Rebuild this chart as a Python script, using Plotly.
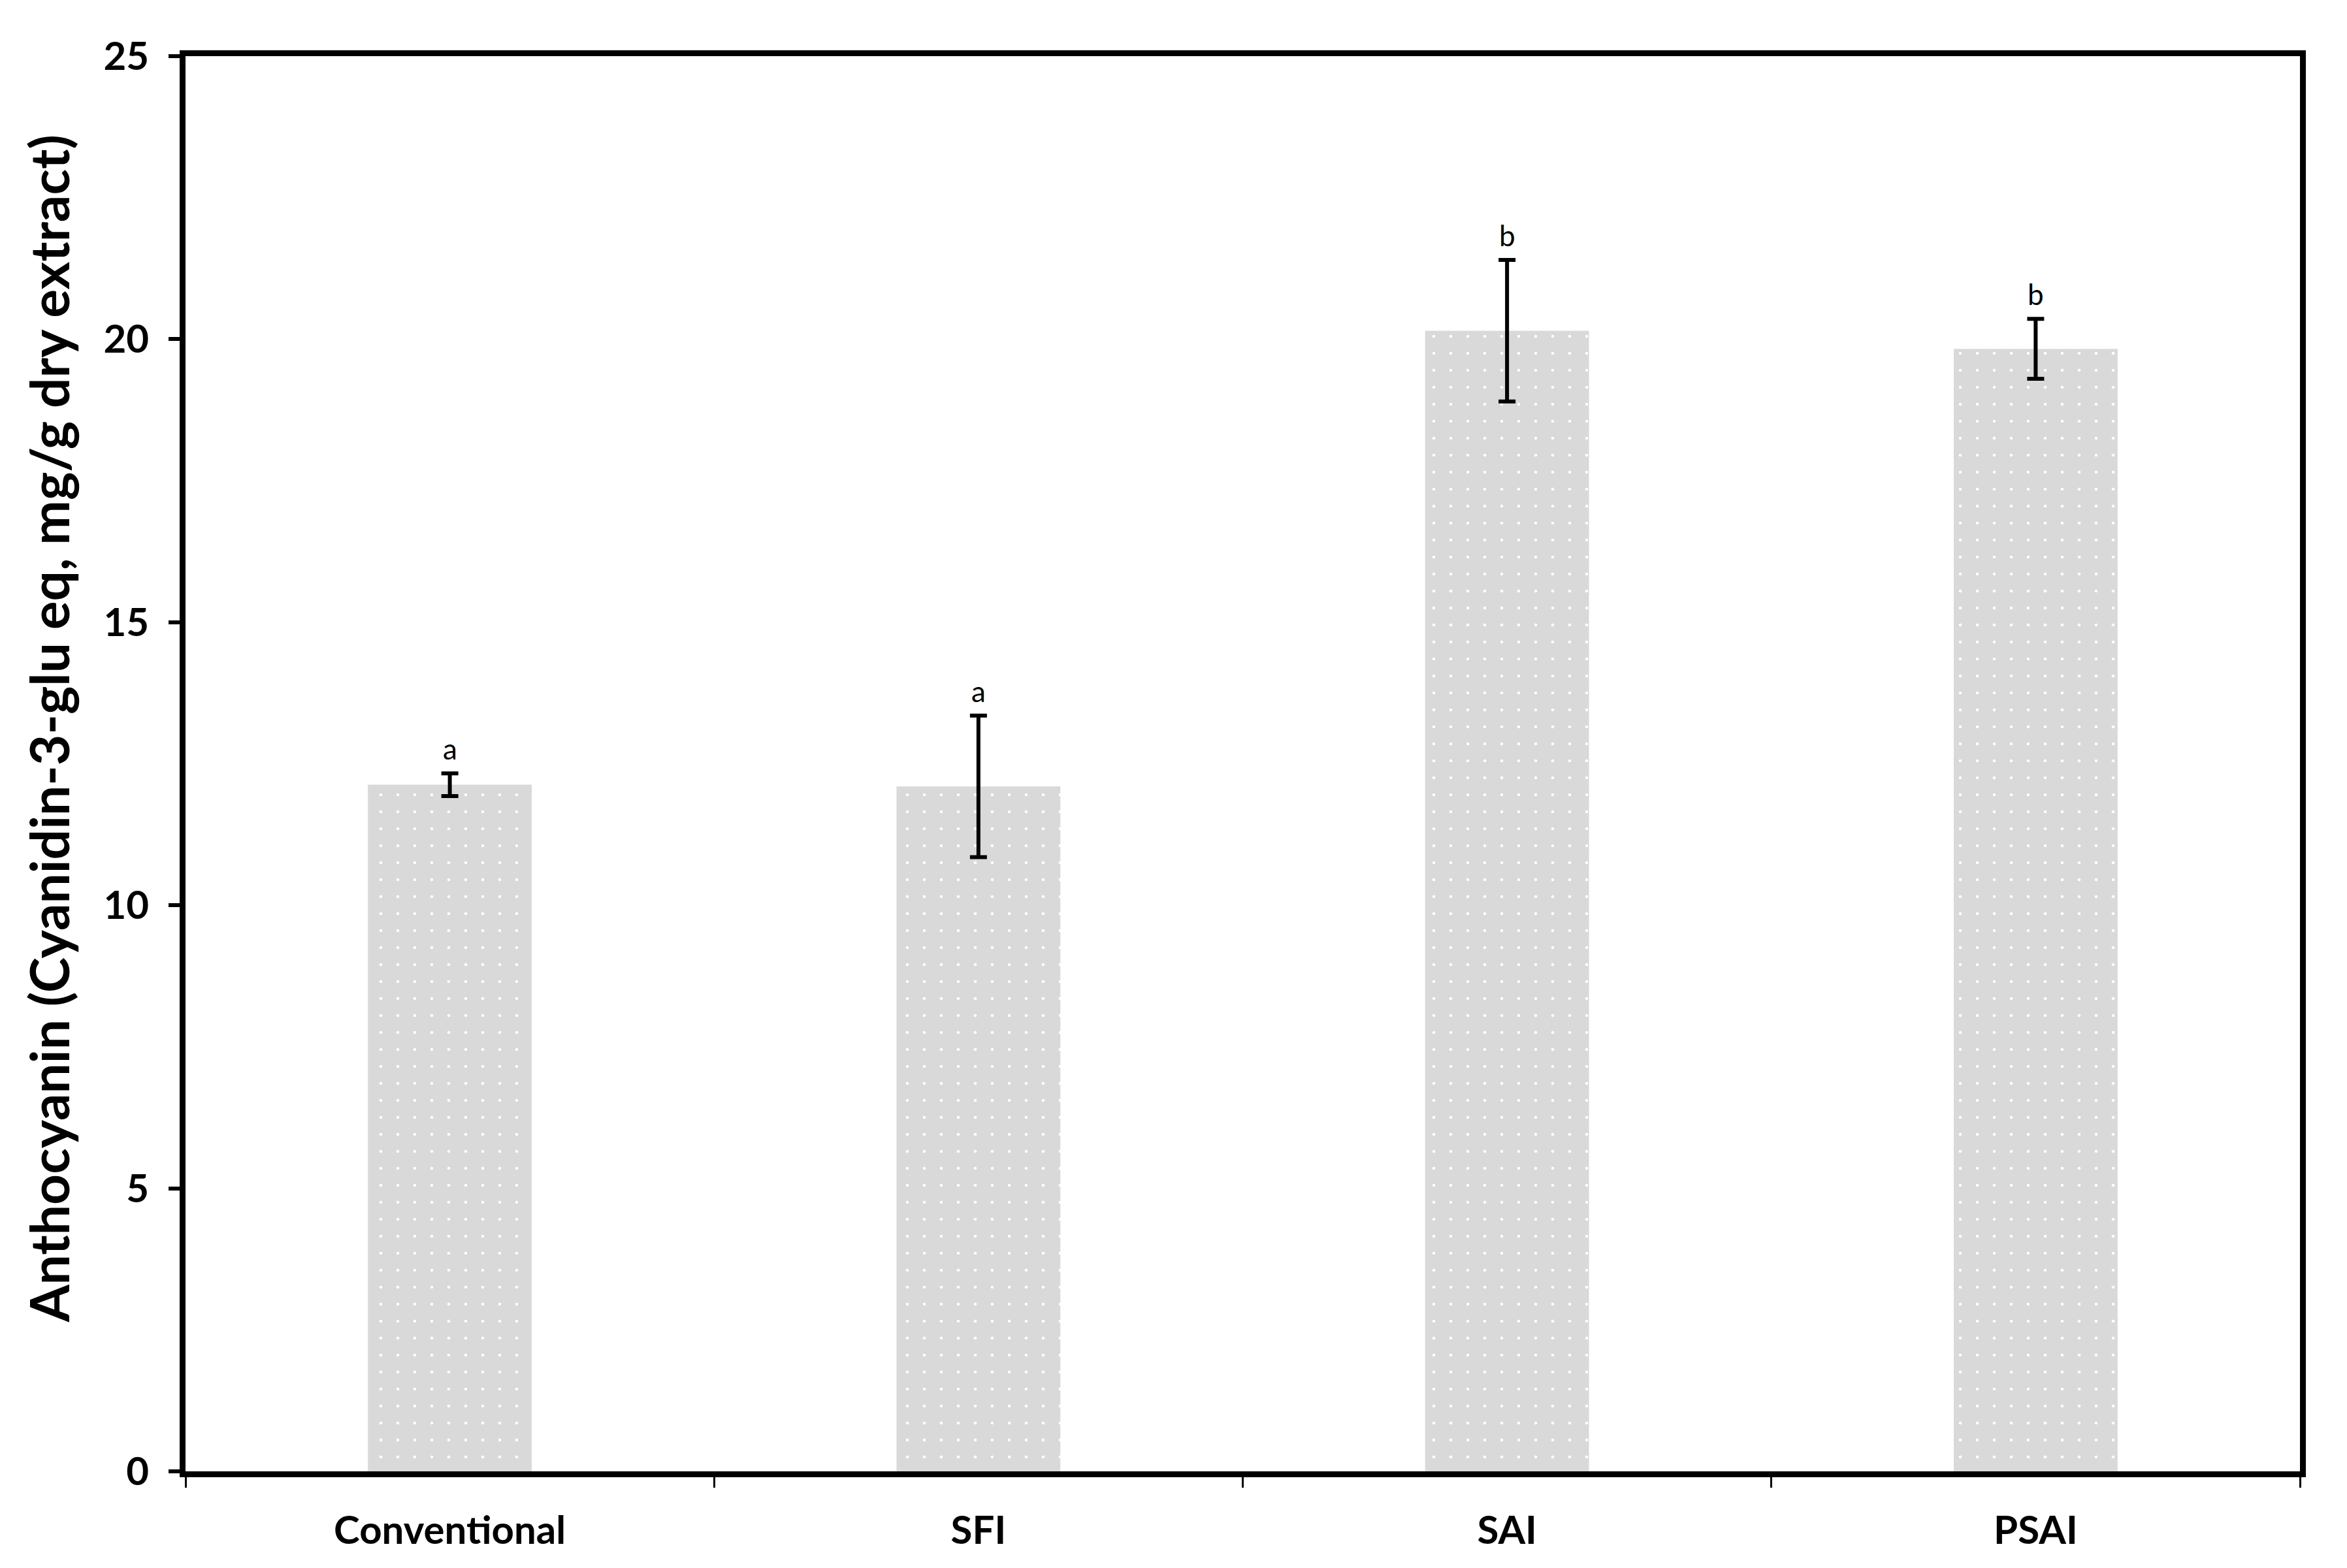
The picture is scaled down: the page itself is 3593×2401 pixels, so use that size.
import plotly.graph_objects as go

categories = ["Conventional", "SFI", "SAI", "PSAI"]
values = [12.13, 12.10, 20.15, 19.83]
errors = [0.20, 1.25, 1.25, 0.53]
letters = ["a", "a", "b", "b"]
y_ticks = [0, 5, 10, 15, 20, 25]

FONT = "Lato"

fig = go.Figure()
fig.add_trace(go.Bar(
    x=categories, y=values, width=0.31,
    marker=dict(color="#d9d9d9", line=dict(width=0),
                pattern=dict(shape=".", fgcolor="white", bgcolor="#d9d9d9",
                             size=26, solidity=0.025, fillmode="replace")),
    error_y=dict(type="data", array=errors, visible=True, color="black",
                 thickness=6, width=13),
    showlegend=False,
))

for c, v, e, t in zip(categories, values, errors, letters):
    fig.add_annotation(x=c, y=v + e, text=t, showarrow=False,
                       yanchor="bottom", yshift=10,
                       font=dict(family=FONT, size=44, color="black"))

fig.add_annotation(xref="paper", yref="paper", x=-0.0649, y=0.525,
                   text="<b>Anthocyanin (Cyanidin-3-glu eq, mg/g dry extract)</b>",
                   textangle=-90, showarrow=False, xanchor="center", yanchor="middle",
                   font=dict(family=FONT, size=82, color="black"))

fig.update_layout(
    width=3593, height=2401,
    margin=dict(l=276, r=80, t=78, b=156),
    paper_bgcolor="white", plot_bgcolor="white",
    bargap=0.69,
    font=dict(family=FONT, color="black"),
)
fig.update_xaxes(
    type="category", range=[-0.5, 3.5], showline=True, linewidth=9, linecolor="black",
    mirror=True, ticks="outside", tickson="boundaries", ticklen=16, tickwidth=3,
    tickcolor="black", showgrid=False, zeroline=False,
    tickfont=dict(family=FONT, size=60, color="black", weight="bold"),
    ticklabelstandoff=30,
)
fig.update_yaxes(
    range=[0, 25], tickvals=y_ticks, showline=True, linewidth=9, linecolor="black",
    mirror=True, ticks="outside", ticklen=17, tickwidth=6, tickcolor="black",
    showgrid=False, zeroline=False,
    tickfont=dict(family=FONT, size=60, color="black", weight="bold"),
    ticklabelstandoff=18,
)

fig.write_html("out.html")
